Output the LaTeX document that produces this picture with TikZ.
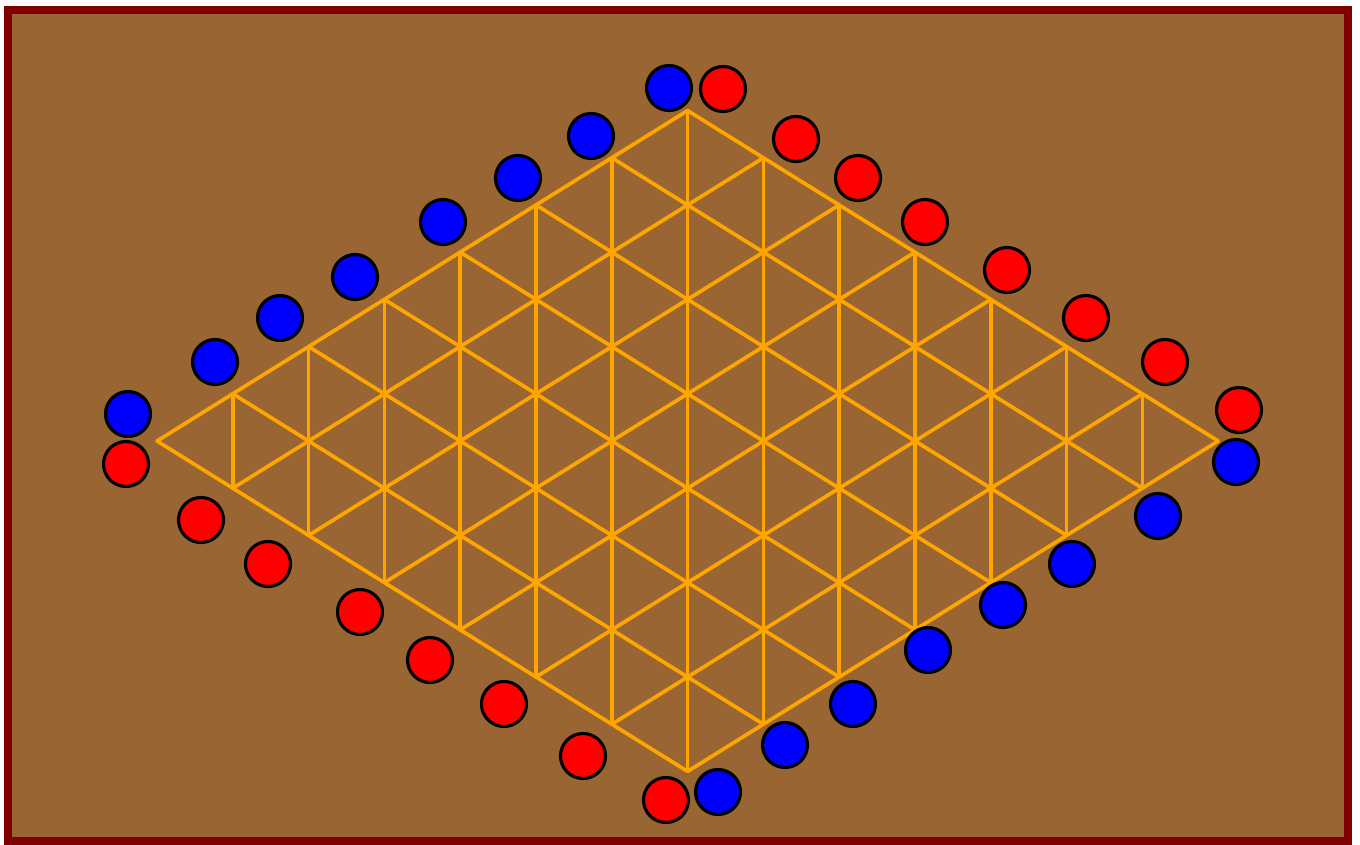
\documentclass[tikz,border=0pt]{standalone}
\usepackage{xcolor}
\definecolor{hexbrown}{RGB}{153,102,51}
\definecolor{hexframe}{RGB}{128,0,0}
\definecolor{hexorange}{RGB}{255,165,0}
\definecolor{hexblue}{RGB}{0,0,255}
\definecolor{hexred}{RGB}{255,0,0}
\usetikzlibrary{calc}
\tikzset{
  stone/.style={circle, draw=black, line width=0.9pt, fill=#1,
                minimum size=4.5mm, inner sep=0pt},
  gridline/.style={hexorange, line width=1.05pt, line cap=round},
  boardframe/.style={draw=hexframe, fill=hexbrown, line width=2.3pt},
}

\begin{document}
\begin{tikzpicture}[x=0.1mm, y=-0.1mm]
  \useasboundingbox (0,0) rectangle (1360,845);
  % Board background
  \draw[boardframe] (8,10) rectangle (1348,841);

  % Rhombus grid (7 x 7)
  \def\dx{75.8}
  \def\dy{47.2}
  \coordinate (left) at (157,441);
  \foreach \i in {0,...,7} {
    \draw[gridline] ($(left)+(\i*\dx,-\i*\dy)$) -- ($(left)+(\i*\dx+7*\dx,-\i*\dy+7*\dy)$);
    \draw[gridline] ($(left)+(\i*\dx,\i*\dy)$) -- ($(left)+(\i*\dx+7*\dx,\i*\dy-7*\dy)$);
  }
  % Vertical lines
  \foreach \k in {1,...,13} {
    \pgfmathsetmacro{\m}{min(\k,14-\k)}
    \draw[gridline] ($(left)+(\k*\dx,-\m*\dy)$) -- ($(left)+(\k*\dx,\m*\dy)$);
  }

  % Blue stones, upper left
  \foreach \n/\x/\y in {1/128/414, 2/215/362, 3/280/318, 4/355/277,
                        5/443/222, 6/518/178, 7/591/136, 8/669/88}
    \node[stone=hexblue] (bl\n) at (\x,\y) {};
  % Red stones, upper right
  \foreach \n/\x/\y in {1/723/89, 2/796/139, 3/858/178, 4/925/222,
                        5/1007/270, 6/1086/318, 7/1165/362, 8/1239/410}
    \node[stone=hexred] (rr\n) at (\x,\y) {};
  % Red stones, lower left
  \foreach \n/\x/\y in {1/126/464, 2/201/520, 3/268/564, 4/360/612,
                        5/430/660, 6/504/704, 7/583/756, 8/666/800}
    \node[stone=hexred] (rl\n) at (\x,\y) {};
  % Blue stones, lower right
  \foreach \n/\x/\y in {1/718/792, 2/785/745, 3/853/704, 4/928/650,
                        5/1003/605, 6/1072/564, 7/1158/516, 8/1236/462}
    \node[stone=hexblue] (br\n) at (\x,\y) {};
\end{tikzpicture}
\end{document}
